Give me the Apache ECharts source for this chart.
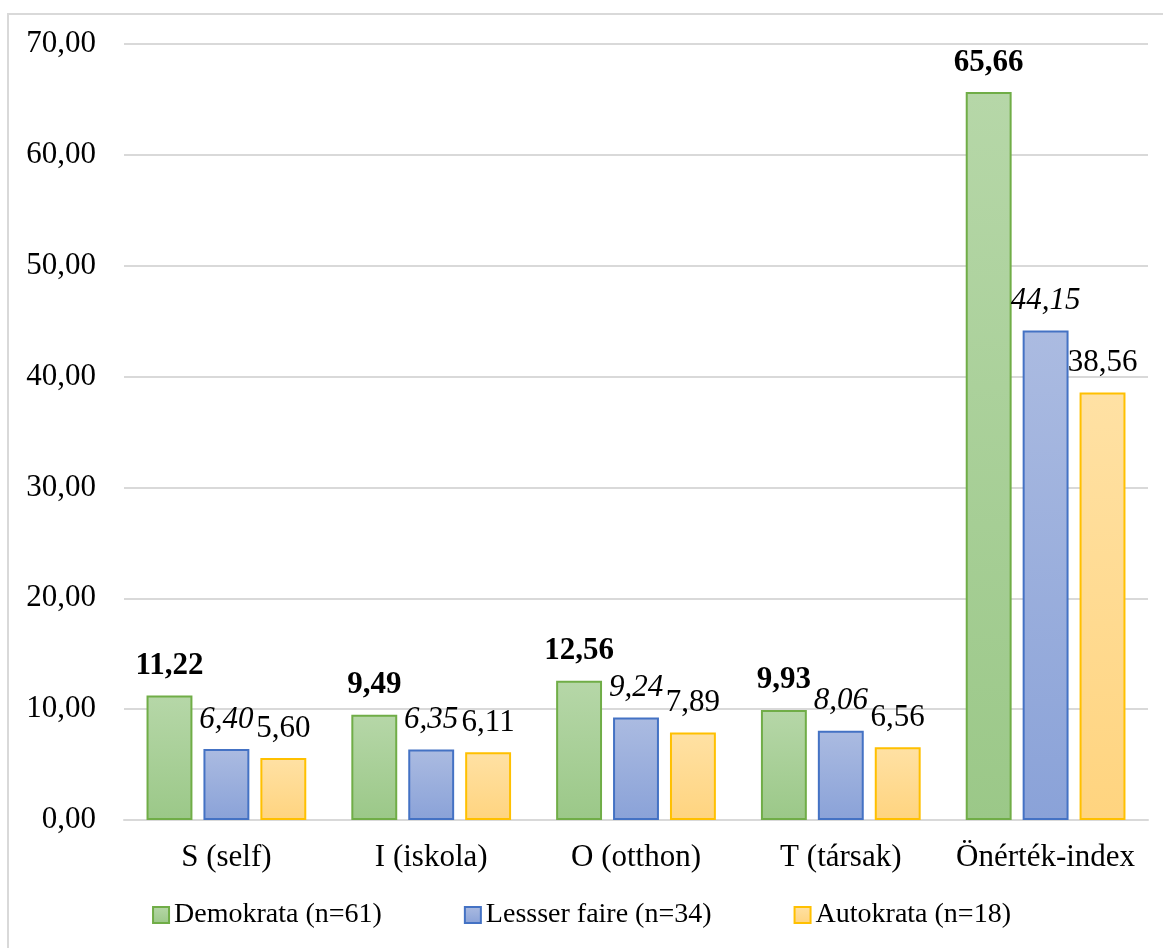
<!DOCTYPE html>
<html lang="hu">
<head>
    <meta charset="UTF-8">
    <title>Önérték-index</title>
    <script src="https://cdn.jsdelivr.net/npm/echarts@6/dist/echarts.min.js"></script>
    <style>
        * { margin: 0; padding: 0; }
        body { background: #fff; }
        .frame {
            position: absolute;
            left: 7px;
            top: 13px;
            width: 1170px;
            height: 950px;
            border: 2px solid #d9d9d9;
        }
        #main {
            position: absolute;
            left: 0;
            top: 0;
            width: 1163px;
            height: 948px;
        }
    </style>
</head>
<body>
    <div class="frame"></div>
    <div id="main"></div>
    <script>
        // adatok
        let categories = ['S (self)', 'I (iskola)', 'O (otthon)', 'T (társak)', 'Önérték-index'];
        let seriesNames = ['Demokrata (n=61)', 'Lessser faire (n=34)', 'Autokrata (n=18)'];
        let demokrata = [11.22, 9.49, 12.56, 9.93, 65.66];
        let lessserFaire = [6.40, 6.35, 9.24, 8.06, 44.15];
        let autokrata = [5.60, 6.11, 7.89, 6.56, 38.56];

        let font = '"Liberation Serif", "Times New Roman", serif';
        let fmt = v => v.toFixed(2).replace('.', ',');

        function grad(top, bottom) {
            return {
                type: 'linear', x: 0, y: 0, x2: 0, y2: 1,
                colorStops: [{ offset: 0, color: top }, { offset: 1, color: bottom }]
            };
        }

        function makeSeries(name, data, top, bottom, border, weight, style) {
            return {
                name: name,
                type: 'bar',
                data: data,
                barGap: '24%',
                barCategoryGap: '22%',
                itemStyle: { color: grad(top, bottom), borderColor: border, borderWidth: 2 },
                label: {
                    show: true,
                    position: 'top',
                    distance: 14,
                    formatter: p => fmt(p.value),
                    fontFamily: font,
                    fontSize: 31,
                    color: '#000',
                    fontWeight: weight,
                    fontStyle: style
                },
                emphasis: { disabled: true }
            };
        }

        let myChart = echarts.init(document.getElementById('main'));
        myChart.setOption({
            animation: false,
            grid: { left: 124, right: 15, top: 44, bottom: 128, containLabel: false },
            legend: {
                bottom: 14,
                left: 'center',
                itemWidth: 16,
                itemHeight: 16,
                itemGap: 82,
                icon: 'rect',
                textStyle: { fontFamily: font, fontSize: 28, color: '#000' },
                data: seriesNames
            },
            xAxis: {
                type: 'category',
                data: categories,
                axisLine: { lineStyle: { color: '#d9d9d9', width: 2 } },
                axisTick: { show: false },
                axisLabel: { interval: 0, fontFamily: font, fontSize: 31, color: '#000', margin: 22 }
            },
            yAxis: {
                type: 'value',
                min: 0,
                max: 70,
                interval: 10,
                axisLine: { show: false },
                axisTick: { show: false },
                splitLine: { lineStyle: { color: '#d9d9d9', width: 2 } },
                axisLabel: {
                    fontFamily: font, fontSize: 31, color: '#000', margin: 28,
                    formatter: v => fmt(v)
                }
            },
            series: [
                makeSeries(seriesNames[0], demokrata, '#b6d7a8', '#9bc888', '#70ad47', 'bold', 'normal'),
                makeSeries(seriesNames[1], lessserFaire, '#abbbe1', '#8aa2d8', '#4472c4', 'normal', 'italic'),
                makeSeries(seriesNames[2], autokrata, '#ffe1a4', '#ffd47f', '#ffc000', 'normal', 'normal')
            ]
        });
    </script>
</body>
</html>
